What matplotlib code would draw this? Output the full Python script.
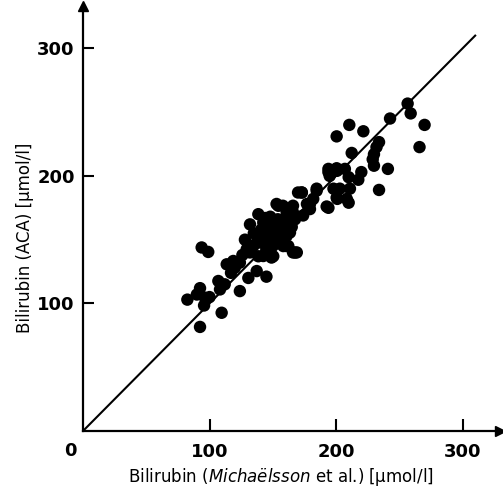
import matplotlib
matplotlib.use("Agg")
import matplotlib.pyplot as plt

# Bilirubin, Michaëlsson method (x) vs ACA method (y), µmol/l
mich = [256.6, 259, 270, 266, 210.5, 221.6, 200.5, 242.7, 234, 232, 230, 229, 230, 241,
        234, 212.4, 194, 200.5, 195, 210, 217.6, 211, 203, 198, 210, 201, 192.6, 184.7,
        172.9, 182, 177, 166, 158,
        194, 207, 173, 153, 184.7, 200.5, 208.5, 194, 179.4, 163.6, 174, 158.3,
        138.6, 132, 154.4, 166, 145, 161, 167.6, 155.7, 158.3, 137.3, 129.4, 142.5, 149,
        169, 147.8, 140, 161, 145, 132, 142.5, 150.4, 163.6, 179.4,
        92.5, 109.6, 124, 167.6, 93.8, 99, 82.5, 90, 92.5, 96.4, 95.7, 107, 108.3, 112,
        113.6, 118.8, 124, 130.7, 137.3, 132, 141, 145, 153, 155.7, 161, 162.3, 138.6,
        145, 150.4, 139.9, 134.6, 170, 166, 161,
        148, 152, 157, 143, 160, 150, 135, 128, 120, 126, 100, 117, 200.8, 220,
        146, 154, 151, 144, 158, 165]
aca = [256.7, 249, 240, 222.6, 240, 235, 231, 245, 226.5, 222.6, 217, 213, 208, 205.5,
       189, 218, 205.5, 206, 200, 199, 197, 190, 190, 190, 179, 182, 176, 190,
       187, 182, 178, 176.6, 176.6,
       203, 205.5, 187, 178, 188.4, 183, 182, 175, 178, 174.5, 169, 165,
       170, 162, 176.6, 140, 121, 171.4, 166, 150.4, 145, 147.8, 142.5, 137.2, 136,
       140, 155.6, 151.7, 145, 141, 142.5, 163.5, 163.5, 155.6, 174,
       81.6, 92.7, 109.7, 139.9, 143.9, 140.4, 103, 107, 112, 104.5, 98.4, 117.6, 111, 115,
       130.7, 133.3, 132, 120, 125.4, 140, 158, 153, 161, 147.8, 153, 145, 137,
       142.5, 137, 147.8, 145, 187, 171.4, 164.8,
       168, 158, 160, 160, 158, 145, 155, 150, 128, 138, 105, 124, 204, 203,
       150, 166, 153, 167, 152, 160]

line_x = [0, 310]
line_y = [0, 310]

x_ticks = [100, 200, 300]
y_ticks = [100, 200, 300]

fig = plt.figure(figsize=(5.03, 4.95), dpi=100)
ax = fig.add_axes([0.165, 0.1293, 0.830, 0.858])
ax.set_xlim(0, 330)
ax.set_ylim(0, 333)

ax.plot(line_x, line_y, color='black', lw=1.5)
ax.scatter(mich, aca, s=80, color='black', edgecolors='none', zorder=3)

# axes with arrow heads
for side in ['top', 'right']:
    ax.spines[side].set_visible(False)
for side in ['left', 'bottom']:
    ax.spines[side].set_linewidth(1.6)
ax.plot(1, 0, '>', color='black', ms=7, transform=ax.get_yaxis_transform(), clip_on=False)
ax.plot(0, 1, '^', color='black', ms=7, transform=ax.get_xaxis_transform(), clip_on=False)

ax.set_xticks(x_ticks)
ax.set_yticks(y_ticks)
ax.tick_params(axis='x', direction='in', length=9, width=1.5, pad=9, labelsize=13)
ax.tick_params(axis='y', direction='in', length=8, width=1.5, pad=6, labelsize=13)
for lab in ax.get_xticklabels() + ax.get_yticklabels():
    lab.set_fontweight('bold')
ax.annotate('0', xy=(0, 0), xytext=(-13, -20), textcoords='offset pixels',
            ha='center', va='center', fontsize=13, fontweight='bold')

fig.text(0.559, 0.036, r'Bilirubin ($\mathit{Michaëlsson}$ et al.) [µmol/l]',
         ha='center', va='center', fontsize=12)
fig.text(0.05, 0.52, 'Bilirubin (ACA) [µmol/l]', rotation=90,
         ha='center', va='center', fontsize=12)

plt.savefig('out.png', dpi=100)
